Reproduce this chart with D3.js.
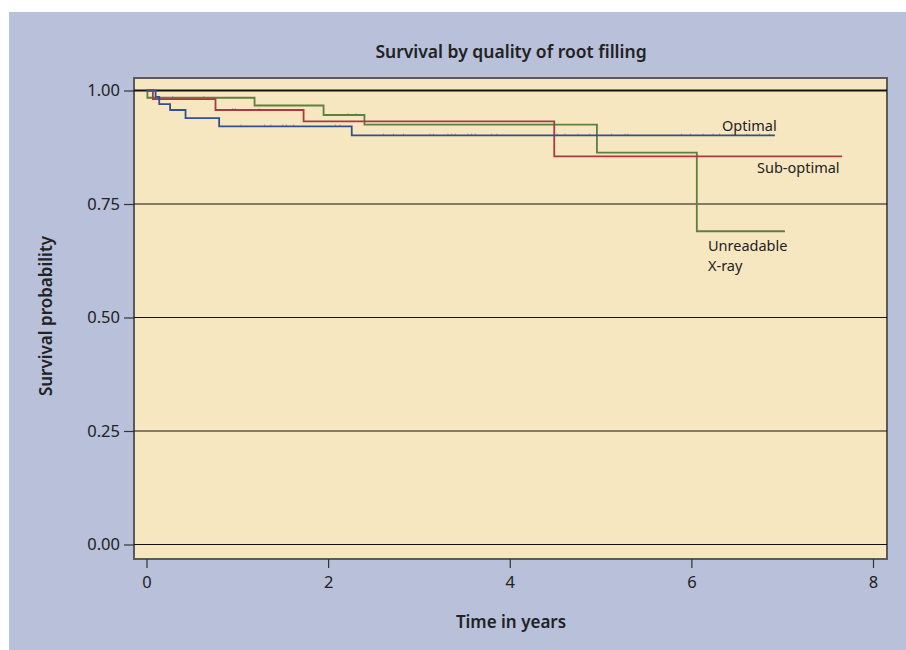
<!DOCTYPE html>
<html>
<head>
<meta charset="utf-8">
<script src="https://cdn.jsdelivr.net/npm/d3@7"></script>
<style>
  body { margin: 0; background: #fff; }
  svg text { font-family: "Noto Sans", "Open Sans", sans-serif; fill: #222; }
</style>
</head>
<body>
<svg id="chart" width="906" height="650"></svg>
<script>
// Kaplan-Meier steps
var optimalTimes = [0, 0.10, 0.14, 0.26, 0.43, 0.80, 2.26, 6.92];
var optimalSurv  = [1, 0.986, 0.970, 0.957, 0.939, 0.921, 0.901, 0.901];
var optimalCens  = [1.04, 1.30, 1.37, 1.50, 1.54, 1.62, 2.08, 2.13, 2.61, 2.72, 2.83, 3.12, 3.16, 3.32, 3.36, 3.40,
                    3.54, 3.58, 3.62, 3.80, 3.86, 4.52, 4.61, 4.75, 4.88, 5.12, 5.27, 5.30, 5.89, 5.99, 6.13, 6.24,
                    6.31, 6.45, 6.61, 6.75, 6.86];

var subTimes = [0, 0.07, 0.76, 1.73, 4.49, 7.66];
var subSurv  = [1, 0.981, 0.957, 0.932, 0.855, 0.855];
var subCens  = [0.95, 0.98, 1.24];

var unreadTimes = [0, 0.01, 1.19, 1.95, 2.40, 4.96, 6.06, 7.03];
var unreadSurv  = [1, 0.984, 0.967, 0.946, 0.925, 0.863, 0.690, 0.690];
var unreadCens  = [0.29, 0.63, 2.22, 2.31];

var xTicks = [0, 2, 4, 6, 8];
var yTicks = [0, 0.25, 0.5, 0.75, 1];

var svg = d3.select("#chart");

svg.append("rect")
    .attr("x", 9).attr("y", 12)
    .attr("width", 897).attr("height", 638)
    .attr("fill", "#b8c0da");

var plot = { left: 134, top: 78, right: 887, bottom: 559 };

var x = d3.scaleLinear().domain([0, 8]).range([146.5, 873]);
var y = d3.scaleLinear().domain([0, 1]).range([544.5, 90.5]);

svg.append("rect")
    .attr("x", plot.left).attr("y", plot.top)
    .attr("width", plot.right - plot.left).attr("height", plot.bottom - plot.top)
    .attr("fill", "#f7e7c1")
    .attr("stroke", "#5a5a5a")
    .attr("stroke-width", 2);

// horizontal grid
svg.append("g").selectAll("line")
    .data(yTicks)
    .enter()
    .append("line")
    .attr("x1", plot.left).attr("x2", plot.right)
    .attr("y1", function (d) { return y(d) })
    .attr("y2", function (d) { return y(d) })
    .attr("stroke", "#111")
    .attr("stroke-width", function (d) { return d === 1 ? 1.8 : 1 });

// axes
var yAxis = svg.append("g")
    .attr("transform", "translate(" + plot.left + ",0)")
    .call(d3.axisLeft(y).tickValues(yTicks).tickFormat(d3.format(".2f")).tickSize(10).tickPadding(4));
var xAxis = svg.append("g")
    .attr("transform", "translate(0," + plot.bottom + ")")
    .call(d3.axisBottom(x).tickValues(xTicks).tickFormat(d3.format("d")).tickSize(9).tickPadding(8));
[xAxis, yAxis].forEach(function (a) {
    a.select(".domain").remove();
    a.selectAll("line").attr("stroke", "#333").attr("stroke-width", 1.2);
    a.selectAll("text").attr("font-size", 16.5).attr("fill", "#222")
        .attr("font-family", "\"Noto Sans\", sans-serif");
});

var line = d3.line()
    .x(function (d) { return x(d[0]) })
    .y(function (d) { return y(d[1]) })
    .curve(d3.curveStepAfter);

var groups = [
    { t: unreadTimes, s: unreadSurv, c: unreadCens, color: "#5b8040" },
    { t: subTimes, s: subSurv, c: subCens, color: "#a83a45" },
    { t: optimalTimes, s: optimalSurv, c: optimalCens, color: "#32508f" }
];

function survAt(g, t) {
    var v = 1;
    for (var i = 0; i < g.t.length; i++) if (g.t[i] <= t) v = g.s[i];
    return v;
}

groups.forEach(function (g) {
    svg.append("path")
        .attr("d", line(d3.zip(g.t, g.s)))
        .attr("fill", "none")
        .attr("stroke", g.color)
        .attr("stroke-width", 1.8);
    // censoring marks, barely visible in the original
    svg.append("g").selectAll("line")
        .data(g.c)
        .enter()
        .append("line")
        .attr("x1", function (d) { return x(d) })
        .attr("x2", function (d) { return x(d) })
        .attr("y1", function (d) { return y(survAt(g, d)) - 1.8 })
        .attr("y2", function (d) { return y(survAt(g, d)) })
        .attr("stroke", g.color)
        .attr("stroke-opacity", 0.5)
        .attr("stroke-width", 1);
});

// curve labels
var labels = [
    { text: "Optimal", x: 722, y: 131 },
    { text: "Sub-optimal", x: 757, y: 173 },
    { text: "Unreadable", x: 708, y: 251 },
    { text: "X-ray", x: 708, y: 271 }
];
svg.append("g").selectAll("text")
    .data(labels)
    .enter()
    .append("text")
    .attr("x", function (d) { return d.x })
    .attr("y", function (d) { return d.y })
    .attr("font-size", 14.5)
    .text(function (d) { return d.text });

svg.append("text")
    .attr("x", 511).attr("y", 58)
    .attr("text-anchor", "middle")
    .attr("font-size", 17.5)
    .attr("font-weight", 600)
    .text("Survival by quality of root filling");

svg.append("text")
    .attr("x", 511).attr("y", 628)
    .attr("text-anchor", "middle")
    .attr("font-size", 17)
    .attr("font-weight", 600)
    .text("Time in years");

svg.append("text")
    .attr("transform", "translate(52,316) rotate(-90)")
    .attr("text-anchor", "middle")
    .attr("font-size", 17)
    .attr("font-weight", 600)
    .text("Survival probability");
</script>
</body>
</html>
